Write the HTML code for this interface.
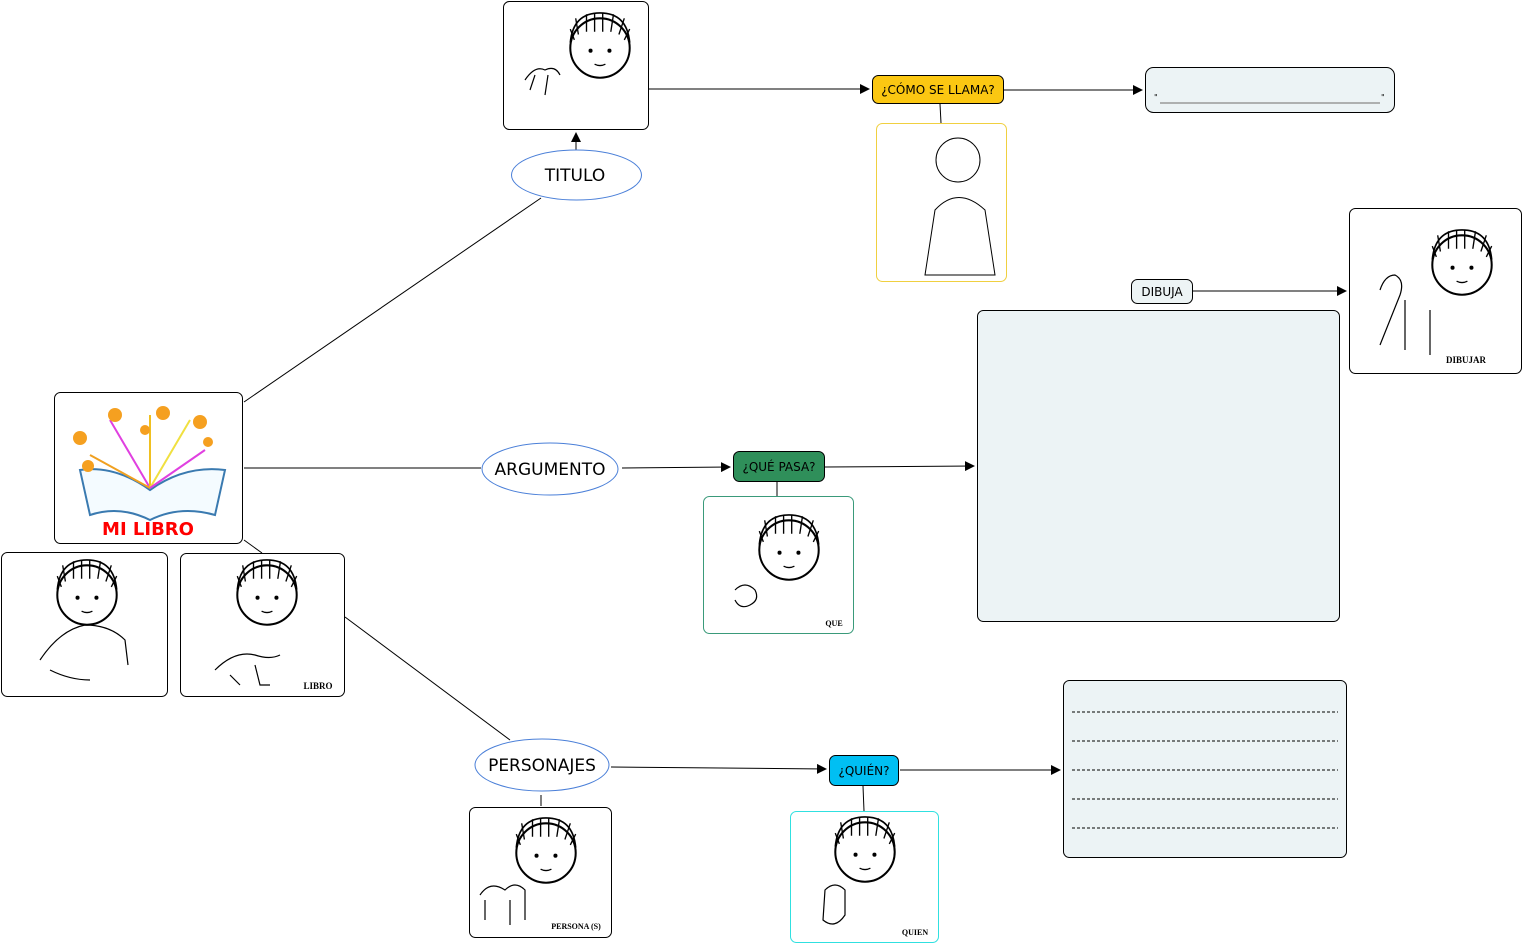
<!DOCTYPE html>
<html><head><meta charset="utf-8"><style>
html,body{margin:0;padding:0;background:#fff;width:1523px;height:945px;overflow:hidden}
text{font-family:"DejaVu Sans","Liberation Sans",sans-serif}
</style></head><body>
<svg width="1523" height="945" viewBox="0 0 1523 945" xmlns="http://www.w3.org/2000/svg">
<defs>
<marker id="a" markerWidth="10" markerHeight="10" refX="9" refY="5" orient="auto" markerUnits="userSpaceOnUse"><path d="M0,0 L10,5 L0,10 z" fill="#000"/></marker>
<g id="f0"><circle cx="0" cy="0" r="22" fill="#fff" stroke="#000" stroke-width="1.5"/>
<path d="M-22,-4 Q-20,-26 0,-26 Q20,-26 22,-4" fill="none" stroke="#000" stroke-width="1.2"/>
<path d="M-16,-10 L-18,-22 M-10,-12 L-10,-25 M-4,-12 L-4,-26 M2,-12 L2,-26 M8,-12 L10,-25 M14,-10 L18,-22 M18,-6 L22,-14 M-19,-6 L-22,-14" stroke="#000" stroke-width="1"/>
<circle cx="-7" cy="2" r="1.5"/><circle cx="7" cy="2" r="1.5"/><path d="M-4,12 Q0,14 4,12" fill="none" stroke="#000"/></g>
<g id="face"><use href="#f0" transform="scale(1.35)"/></g>
</defs>
<g stroke="#000" stroke-width="1" fill="none">
<line x1="244" y1="402" x2="541" y2="198"/>
<line x1="244" y1="468" x2="481" y2="468"/>
<line x1="244" y1="540" x2="262" y2="553"/>
<line x1="345" y1="617" x2="510" y2="740"/>
<line x1="576" y1="150" x2="576" y2="133" marker-end="url(#a)"/>
<line x1="649" y1="89" x2="869" y2="89" marker-end="url(#a)"/>
<line x1="1004" y1="90" x2="1142" y2="90" marker-end="url(#a)"/>
<line x1="940" y1="104" x2="941" y2="123"/>
<line x1="1193" y1="291" x2="1346" y2="291" marker-end="url(#a)"/>
<line x1="622" y1="468" x2="730" y2="467" marker-end="url(#a)"/>
<line x1="825" y1="467" x2="974" y2="466" marker-end="url(#a)"/>
<line x1="777" y1="482" x2="777" y2="496"/>
<line x1="611" y1="767" x2="826" y2="769" marker-end="url(#a)"/>
<line x1="900" y1="770" x2="1060" y2="770" marker-end="url(#a)"/>
<line x1="863" y1="786" x2="864" y2="811"/>
<line x1="541" y1="795" x2="541" y2="806"/>
</g>
<g fill="#fff" stroke="#000" stroke-width="1">
<rect x="503.5" y="1.5" width="145" height="128" rx="6"/>
<rect x="54.5" y="392.5" width="188" height="151" rx="6"/>
<rect x="1.5" y="552.5" width="166" height="144" rx="6"/>
<rect x="180.5" y="553.5" width="164" height="143" rx="6"/>
<rect x="1349.5" y="208.5" width="172" height="165" rx="6"/>
<rect x="469.5" y="807.5" width="142" height="130" rx="6"/>
</g>
<rect x="876.5" y="123.5" width="130" height="158" rx="6" fill="#fff" stroke="#f0d040"/>
<rect x="703.5" y="496.5" width="150" height="137" rx="6" fill="#fff" stroke="#3a9a7a"/>
<rect x="790.5" y="811.5" width="148" height="131" rx="6" fill="#fff" stroke="#30e0e0"/>
<use href="#face" x="600" y="48"/>
<use href="#face" x="87" y="595"/>
<use href="#face" x="267" y="595"/>
<use href="#face" x="1462" y="265"/>
<use href="#face" x="789" y="550"/>
<use href="#face" x="546" y="853"/>
<use href="#face" x="865" y="852"/>
<g fill="none" stroke="#000" stroke-width="1.2">
<path d="M525,80 q10,-15 20,-10 q10,-5 15,5 M530,90 l5,-15 M545,95 l3,-20"/>
<path d="M40,660 Q60,630 85,625 Q110,625 125,640 L128,665 M50,670 Q70,680 90,680"/>
<path d="M215,670 q20,-20 40,-15 q15,5 25,0 M230,675 l10,10 M255,665 l5,20 l10,0"/>
<path d="M1380,290 q5,-15 15,-15 q10,5 5,20 L1380,345 M1405,300 l0,50 M1430,310 l0,45"/>
<path d="M735,590 q10,-10 20,0 q5,10 -5,15 q-10,5 -15,-5"/>
<path d="M480,895 q10,-15 25,-5 q10,-10 20,0 l0,30 M485,920 l0,-20 M510,925 l0,-25"/>
<path d="M825,890 q10,-10 20,0 l0,25 q-10,15 -22,5 z"/>
</g>
<circle cx="958" cy="160" r="22" fill="#fff" stroke="#000"/>
<path d="M935,210 Q958,185 985,210 L995,275 L925,275 Z" fill="none" stroke="#000"/>
<text x="1466" y="363" font-size="9" font-weight="bold" text-anchor="middle" style="font-family:'Liberation Serif'">DIBUJAR</text>
<text x="318" y="689" font-size="9" font-weight="bold" text-anchor="middle" style="font-family:'Liberation Serif'">LIBRO</text>
<text x="834" y="626" font-size="8" font-weight="bold" text-anchor="middle" style="font-family:'Liberation Serif'">QUE</text>
<text x="576" y="929" font-size="8" font-weight="bold" text-anchor="middle" style="font-family:'Liberation Serif'">PERSONA (S)</text>
<text x="915" y="935" font-size="8" font-weight="bold" text-anchor="middle" style="font-family:'Liberation Serif'">QUIEN</text>
<path d="M80,470 Q115,465 150,490 Q185,465 225,470 L215,515 Q180,505 150,520 Q120,505 90,515 Z" fill="#f4fbff" stroke="#3a7ab0" stroke-width="2"/>
<g stroke-width="2" fill="none">
<path d="M150,488 L110,420" stroke="#e040e0"/><path d="M150,488 L150,415" stroke="#f0c020"/><path d="M150,488 L190,420" stroke="#f0e040"/><path d="M150,488 L90,455" stroke="#f0a020"/><path d="M150,488 L205,450" stroke="#e040e0"/>
</g>
<g fill="#f5a020">
<circle cx="115" cy="415" r="7"/><circle cx="163" cy="413" r="7"/><circle cx="200" cy="422" r="7"/><circle cx="80" cy="438" r="7"/><circle cx="145" cy="430" r="5"/><circle cx="208" cy="442" r="5"/><circle cx="88" cy="466" r="6"/>
</g>
<text x="148" y="535" font-size="18" font-weight="bold" fill="#f00" text-anchor="middle">MI LIBRO</text>
<g fill="#fff" stroke="#4a7fd8" stroke-width="1">
<ellipse cx="576.5" cy="175" rx="65" ry="25"/>
<ellipse cx="550" cy="469" rx="68" ry="26"/>
<ellipse cx="542" cy="765" rx="67" ry="26"/>
</g>
<text x="575" y="181" font-size="17" text-anchor="middle">TITULO</text>
<text x="550" y="475" font-size="17" text-anchor="middle">ARGUMENTO</text>
<text x="542" y="771" font-size="17" text-anchor="middle">PERSONAJES</text>
<rect x="872.5" y="75.5" width="131" height="28" rx="6" fill="#fbc712" stroke="#000"/>
<text x="938" y="94" font-size="12" text-anchor="middle">¿CÓMO SE LLAMA?</text>
<rect x="733.5" y="451.5" width="91" height="30" rx="6" fill="#2f8f5a" stroke="#000"/>
<text x="779" y="471" font-size="12" text-anchor="middle">¿QUÉ PASA?</text>
<rect x="829.5" y="755.5" width="69" height="30" rx="6" fill="#00bff3" stroke="#000"/>
<text x="864" y="775" font-size="12" text-anchor="middle">¿QUIÉN?</text>
<rect x="1131.5" y="279.5" width="61" height="24" rx="6" fill="#edf4f5" stroke="#000"/>
<text x="1162" y="296" font-size="12" text-anchor="middle">DIBUJA</text>
<rect x="1145.5" y="67.5" width="249" height="45" rx="8" fill="#ecf3f5" stroke="#000"/>
<text x="1154" y="100" font-size="8">"</text><text x="1381" y="100" font-size="8">"</text>
<line x1="1160" y1="103" x2="1380" y2="103" stroke="#999" stroke-width="1.5"/>
<rect x="977.5" y="310.5" width="362" height="311" rx="6" fill="#ecf3f5" stroke="#000"/>
<rect x="1063.5" y="680.5" width="283" height="177" rx="6" fill="#ecf3f5" stroke="#000"/>
<g stroke="#000" stroke-dasharray="3,2" stroke-width="1">
<line x1="1072" y1="712" x2="1338" y2="712"/><line x1="1072" y1="741" x2="1338" y2="741"/><line x1="1072" y1="770" x2="1338" y2="770"/><line x1="1072" y1="799" x2="1338" y2="799"/><line x1="1072" y1="828" x2="1338" y2="828"/>
</g>
</svg>
</body></html>
